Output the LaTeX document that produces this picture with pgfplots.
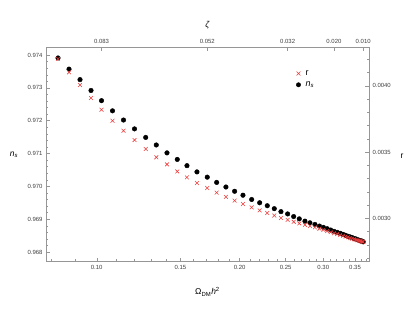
\documentclass[border=0pt]{standalone}
\usepackage{fontspec}
\setmainfont{Liberation Sans}
\usepackage{pgfplots}
\usepackage{pgfplotstable}
\pgfplotsset{compat=1.18}
\definecolor{mred}{RGB}{238,60,60}
\definecolor{fr}{RGB}{150,150,150}
\pgfplotstableread{
om ns r
0.08289 0.97391 0.004204
0.08743 0.97357 0.004101
0.09222 0.97325 0.004005
0.09727 0.97292 0.003907
0.10235 0.97261 0.003819
0.10796 0.97230 0.003736
0.11387 0.97202 0.003661
0.12011 0.97175 0.003590
0.12681 0.97149 0.003523
0.13349 0.97126 0.003460
0.14060 0.97102 0.003407
0.14779 0.97082 0.003354
0.15491 0.97063 0.003309
0.16260 0.97044 0.003266
0.17093 0.97028 0.003229
0.17889 0.97012 0.003194
0.18714 0.96998 0.003162
0.19520 0.96985 0.003134
0.20324 0.96973 0.003108
0.21201 0.96960 0.003083
0.22039 0.96950 0.003060
0.22866 0.96941 0.003040
0.23655 0.96932 0.003021
0.24434 0.96923 0.003003
0.25241 0.96916 0.002988
0.25986 0.96908 0.002974
0.26701 0.96901 0.002962
0.27449 0.96894 0.002951
0.28122 0.96889 0.002942
0.28812 0.96884 0.002932
0.29447 0.96879 0.002922
0.30024 0.96875 0.002913
0.30568 0.96871 0.002904
0.31091 0.96867 0.002896
0.31593 0.96863 0.002888
0.32087 0.96860 0.002882
0.32557 0.96857 0.002874
0.33002 0.96854 0.002868
0.33420 0.96851 0.002862
0.33811 0.96848 0.002857
0.34173 0.96846 0.002851
0.34506 0.96844 0.002847
0.34826 0.96841 0.002842
0.35114 0.96840 0.002839
0.35387 0.96838 0.002835
0.35645 0.96836 0.002832
0.35871 0.96835 0.002829
0.36062 0.96833 0.002827
0.36255 0.96833 0.002824
0.36413 0.96831 0.002821
}\data
\begin{document}
\begin{tikzpicture}[x=1bp,y=1bp]
\useasboundingbox (0,0) rectangle (415,310);
\begin{axis}[
  scale only axis, width=323bp, height=214.4bp,
  at={(46bp,48.3bp)}, anchor=south west,
  xmode=log, xmin=0.0782, xmax=0.3745,
  axis line style={fr, line width=0.5pt},
  tick style={fr, line width=0.4pt},
  major tick length=4bp, minor tick length=2.3bp,
  tick align=inside,
  ticklabel style={font=\fontsize{6}{7}\selectfont, text=black!75},
  label style={font=\fontsize{8.5}{10}\selectfont},
  scaled y ticks=false,
  ymin=0.967705, ymax=0.974235,
  xtick pos=bottom, ytick pos=left,
  xtick={0.10,0.15,0.20,0.25,0.30,0.35},
  xticklabels={0.10,0.15,0.20,0.25,0.30,0.35},
  minor xtick={0.08,0.09,0.11,0.12,0.13,0.14,0.16,0.17,0.18,0.19,0.21,0.22,0.23,0.24,0.26,0.27,0.28,0.29,0.31,0.32,0.33,0.34,0.36,0.37},
  ytick={0.968,0.969,0.970,0.971,0.972,0.973,0.974},
  yticklabels={0.968,0.969,0.970,0.971,0.972,0.973,0.974},
  minor y tick num=4,
  xlabel={Ω\textsubscript{DM}\textit{h}\textsuperscript{2}},
  xlabel style={at={(axis description cs:0.5,-0.141)}, anchor=center},
  ylabel={\textit{n}\textsubscript{\textit{s}}},
  ylabel style={at={(axis description cs:-0.099,0.498)}, anchor=center, rotate=-90},
]
\addplot[only marks, mark=*, mark size=2.3bp, black] table[x=om, y=ns] {\data};
\end{axis}
\begin{axis}[
  scale only axis, width=323bp, height=214.4bp,
  at={(46bp,48.3bp)}, anchor=south west,
  xmode=log, xmin=0.0782, xmax=0.3745,
  axis line style={fr, line width=0.5pt},
  tick style={fr, line width=0.4pt},
  major tick length=4bp, minor tick length=2.3bp,
  tick align=inside,
  ticklabel style={font=\fontsize{6}{7}\selectfont, text=black!75},
  label style={font=\fontsize{8.5}{10}\selectfont},
  scaled y ticks=false,
  xminorticks=false,
  ymin=0.002673, ymax=0.004290,
  xtick pos=top, ytick pos=right,
  xticklabel pos=top, yticklabel pos=right,
  xtick={0.10235,0.17093,0.25241,0.31593,0.36413},
  xticklabels={0.083,0.052,0.032,0.020,0.010},
  ytick={0.0030,0.0035,0.0040},
  yticklabels={0.0030,0.0035,0.0040},
  minor ytick={0.0027,0.0028,0.0029,0.0031,0.0032,0.0033,0.0034,0.0036,0.0037,0.0038,0.0039,0.0041,0.0042},
  xlabel={\textit{ζ}},
  xlabel style={at={(axis description cs:0.5,1.104)}, anchor=center},
  ylabel={r},
  ylabel style={at={(axis description cs:1.102,0.49)}, anchor=center, rotate=-90},
  legend style={at={(0.765,0.912)}, anchor=north west, draw=none, fill=none,
    font=\fontsize{9}{10}\selectfont, row sep=1pt},
  legend cell align=left,
]
\addplot[only marks, mark=x, mark size=2.7bp, mred, mark options={line width=0.55pt}] table[x=om, y=r] {\data};
\addlegendentry{\hspace{3bp}r}
\addlegendimage{only marks, mark=*, mark size=2.2bp, black}
\addlegendentry{\hspace{3bp}\textit{n}\textsubscript{\textit{s}}}
\end{axis}
\end{tikzpicture}
\end{document}
